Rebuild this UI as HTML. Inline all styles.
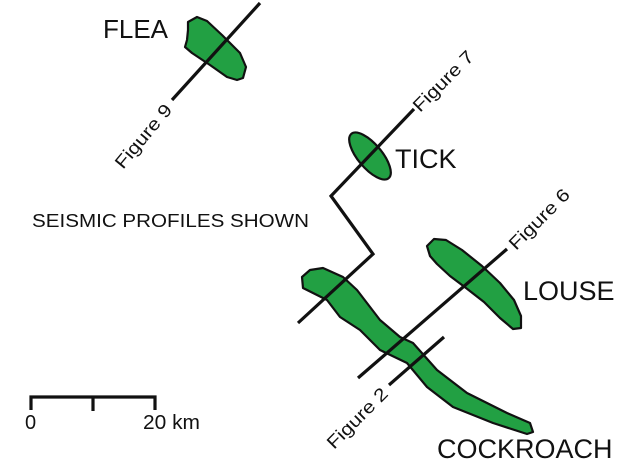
<!DOCTYPE html>
<html><head><style>
html,body{margin:0;padding:0;background:#fff}
svg{display:block}
text{font-family:"Liberation Sans",Arial,sans-serif;fill:#111}
</style></head><body>
<svg width="640" height="469" viewBox="0 0 640 469">
<g fill="#22a043" stroke="#111" stroke-width="2.2" stroke-linejoin="round">
<path d="M188,22 L197,17 L207,21 L222,35 L240,53 L246,67 L243,78 L237,80 L227,77 L210,65 L192,53 L185,47 L187,40 L188,30 Z"/>
<ellipse cx="370" cy="156" rx="12" ry="29" transform="rotate(-40 370 156)"/>
<path d="M302,277 L310,270 L323,268 L343,277 L357,290 L380,320 L400,337 L413,343 L437,370 L467,393 L507,413 L530,423 L533,432 L527,434 L493,423 L453,407 L427,387 L407,363 L380,350 L360,330 L340,317 L327,300 L303,288 Z"/>
<path d="M427,246 L434,239 L446,240 L462,250 L482,266 L500,283 L514,300 L521,316 L521,328 L513,329 L500,318 L484,302 L466,288 L450,276 L437,264 L430,256 Z"/>
</g>
<g stroke="#111" stroke-width="3.2" fill="none" stroke-linecap="butt">
<line x1="260" y1="3" x2="172" y2="100"/>
<polyline points="414,109 331,196 373,254 298,323"/>
<line x1="507" y1="249" x2="358" y2="378"/>
<line x1="444" y1="337" x2="389" y2="385"/>
<polyline points="31,410 31,397 155,397 155,410"/>
<line x1="93" y1="397" x2="93" y2="411"/>
</g>
<text x="103" y="38" font-size="26">FLEA</text>
<text x="395" y="168" font-size="27">TICK</text>
<text x="523" y="300" font-size="27">LOUSE</text>
<text x="437" y="458" font-size="27">COCKROACH</text>
<text x="32" y="227" font-size="18" textLength="277" lengthAdjust="spacingAndGlyphs">SEISMIC PROFILES SHOWN</text>
<text x="25" y="429" font-size="20">0</text>
<text x="143" y="429" font-size="20" textLength="57" lengthAdjust="spacingAndGlyphs">20 km</text>
<text font-size="18" textLength="78" lengthAdjust="spacingAndGlyphs" transform="translate(123,170) rotate(-50)">Figure 9</text>
<text font-size="18" textLength="78" lengthAdjust="spacingAndGlyphs" transform="translate(420,113) rotate(-45)">Figure 7</text>
<text font-size="18" textLength="78" lengthAdjust="spacingAndGlyphs" transform="translate(516,251) rotate(-45)">Figure 6</text>
<text font-size="18" textLength="78" lengthAdjust="spacingAndGlyphs" transform="translate(334,450) rotate(-45)">Figure 2</text>
</svg>
</body></html>
